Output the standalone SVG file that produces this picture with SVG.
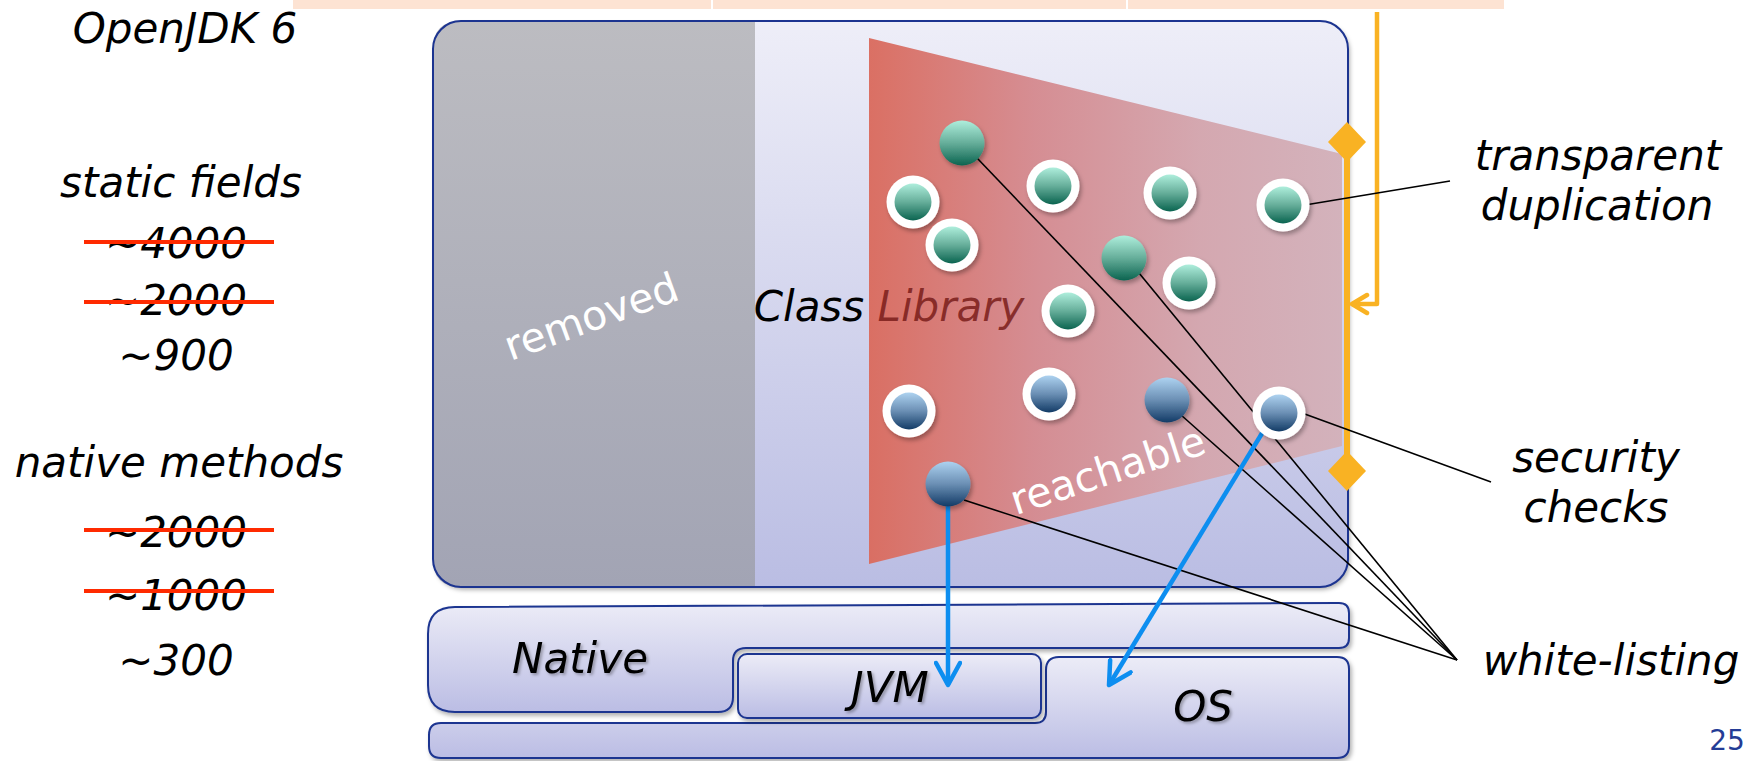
<svg xmlns="http://www.w3.org/2000/svg" width="1753" height="761" viewBox="0 0 1753 761">
  <style>
    .lbl { font-family: "DejaVu Sans", Verdana, sans-serif; font-style: italic; font-size: 42px; fill: #000; text-anchor: middle; }
    .up { font-family: "DejaVu Sans", Verdana, sans-serif; font-size: 41px; fill: #fff; text-anchor: middle; }
    .layer { stroke: #1c3490; stroke-width: 2; fill: url(#layerFill); }
    .strike { stroke: #ff2a00; stroke-width: 4; }
    .lead { stroke: #000; stroke-width: 1.6; fill: none; }
    .call { stroke: #0d8ef0; stroke-width: 4.5; fill: none; }
    .ring { fill: #fff; }
  </style>
  <defs>
    <linearGradient id="boxFill" x1="0" y1="0" x2="0" y2="1">
      <stop offset="0" stop-color="#eeeef8"/>
      <stop offset="1" stop-color="#babde3"/>
    </linearGradient>
    <linearGradient id="grayFill" x1="0" y1="0" x2="0" y2="1">
      <stop offset="0" stop-color="#bcbcc1"/>
      <stop offset="1" stop-color="#a2a4b4"/>
    </linearGradient>
    <linearGradient id="layerFill" x1="0" y1="0" x2="0" y2="1">
      <stop offset="0" stop-color="#ececf7"/>
      <stop offset="1" stop-color="#bbbde4"/>
    </linearGradient>
    <linearGradient id="redFill" x1="0" y1="0" x2="1" y2="0">
      <stop offset="0" stop-color="#da6c5f"/>
      <stop offset="0.35" stop-color="#d58b90"/>
      <stop offset="0.7" stop-color="#d4a6ae"/>
      <stop offset="1" stop-color="#d3b1ba"/>
    </linearGradient>
    <linearGradient id="green" x1="0" y1="0" x2="0" y2="1">
      <stop offset="0" stop-color="#aeeedc"/>
      <stop offset="0.5" stop-color="#66ae9a"/>
      <stop offset="1" stop-color="#0b6450"/>
    </linearGradient>
    <linearGradient id="blue" x1="0" y1="0" x2="0" y2="1">
      <stop offset="0" stop-color="#add2f0"/>
      <stop offset="0.5" stop-color="#6b8fb4"/>
      <stop offset="1" stop-color="#123b66"/>
    </linearGradient>
    <filter id="shadow" x="-30%" y="-30%" width="160%" height="160%">
      <feDropShadow dx="2" dy="3" stdDeviation="2" flood-color="#000" flood-opacity="0.3"/>
    </filter>
    <filter id="txtShadow" x="-10%" y="-20%" width="120%" height="140%">
      <feDropShadow dx="2" dy="2" stdDeviation="1.5" flood-color="#000" flood-opacity="0.3"/>
    </filter>
    <marker id="blueHead" viewBox="-26 -14 30 28" refX="0" refY="0" markerWidth="30" markerHeight="28" markerUnits="userSpaceOnUse" orient="auto">
      <path d="M-22,-12 L0,0 L-22,12" fill="none" stroke="#0d8ef0" stroke-width="4.5" stroke-linecap="round" stroke-linejoin="round"/>
    </marker>
    <marker id="orangeHead" viewBox="-20 -12 24 24" refX="0" refY="0" markerWidth="24" markerHeight="24" markerUnits="userSpaceOnUse" orient="auto">
      <path d="M-15,-9 L0,0 L-15,9" fill="none" stroke="#f9b223" stroke-width="4.5" stroke-linecap="round" stroke-linejoin="round"/>
    </marker>
  </defs>

  <rect width="1753" height="761" fill="#fff"/>

  <!-- header strip -->
  <g id="header">
    <rect x="293" y="0" width="1211" height="9" fill="#fde3d3"/>
    <rect x="711" y="0" width="2" height="9" fill="#fff"/>
    <rect x="1126" y="0" width="2" height="9" fill="#fff"/>
  </g>

  <!-- counters on the left -->
  <g id="counts">
    <text class="lbl" x="185" y="43">OpenJDK 6</text>
    <text class="lbl" x="181" y="197">static fields</text>
    <text class="lbl" x="176" y="258">~4000</text>
    <line class="strike" x1="84" y1="242" x2="274" y2="242"/>
    <text class="lbl" x="176" y="315">~2000</text>
    <line class="strike" x1="84" y1="302" x2="274" y2="302"/>
    <text class="lbl" x="176" y="370">~900</text>
    <text class="lbl" x="179" y="477">native methods</text>
    <text class="lbl" x="176" y="547">~2000</text>
    <line class="strike" x1="84" y1="530" x2="274" y2="530"/>
    <text class="lbl" x="176" y="610">~1000</text>
    <line class="strike" x1="84" y1="591" x2="274" y2="591"/>
    <text class="lbl" x="176" y="675">~300</text>
  </g>

  <!-- class library box -->
  <g id="classLibrary">
    <rect x="433" y="21" width="915" height="566" rx="28" fill="url(#boxFill)" filter="url(#shadow)"/>
    <path d="M755,21 L461,21 Q433,21 433,49 L433,559 Q433,587 461,587 L755,587 Z" fill="url(#grayFill)"/>
    <rect x="433" y="21" width="915" height="566" rx="28" fill="none" stroke="#1c3490" stroke-width="2"/>
    <text class="up" transform="translate(596,330) rotate(-20)" x="0" y="0">removed</text>
  </g>

  <!-- reachable part -->
  <g id="reachable">
    <polygon points="869,38 1342,154 1342,446 869,564" fill="url(#redFill)" opacity="0.97"/>
    <text class="lbl" x="889" y="321"><tspan fill="#000">Class </tspan><tspan fill="#7a1d1a" fill-opacity="0.85">Library</tspan></text>
    <text class="up" transform="translate(1112,484) rotate(-18)" x="0" y="0">reachable</text>
  </g>

  <!-- native layers -->
  <g id="native">
    <path class="layer" filter="url(#shadow)" d="M428,634 Q428,607 455,607 L1339,603 Q1349,603 1349,613 L1349,638 Q1349,648 1339,648 L746,648 Q733,648 733,661 L733,697 Q733,712 718,712 L455,712 Q428,712 428,685 Z"/>
    <text class="lbl" x="580" y="673" filter="url(#txtShadow)">Native</text>
  </g>
  <g id="os">
    <path class="layer" filter="url(#shadow)" d="M1046,670 Q1046,657 1059,657 L1337,657 Q1349,657 1349,669 L1349,746 Q1349,758 1337,758 L441,758 Q429,758 429,746 L429,735 Q429,723 441,723 L1035,723 Q1046,723 1046,712 Z"/>
    <text class="lbl" x="1203" y="721" filter="url(#txtShadow)">OS</text>
  </g>
  <g id="jvm">
    <rect class="layer" filter="url(#shadow)" x="738" y="654" width="303" height="64" rx="9"/>
    <text class="lbl" x="890" y="702" filter="url(#txtShadow)">JVM</text>
  </g>

  <!-- duplication bracket -->
  <g id="bracket">
    <line x1="1347" y1="142" x2="1347" y2="471" stroke="#f9b223" stroke-width="6"/>
    <polygon points="1347,122 1366,142 1347,162 1328,142" fill="#f9b223"/>
    <polygon points="1347,451 1366,471 1347,491 1328,471" fill="#f9b223"/>
    <path d="M1377,12 L1377,304 L1352,304" fill="none" stroke="#f9b223" stroke-width="4.5" stroke-linejoin="round" marker-end="url(#orangeHead)"/>
  </g>

  <!-- connectors -->
  <g id="connectors">
    <line class="lead" x1="1305" y1="205" x2="1450" y2="181"/>
    <line class="lead" x1="1302" y1="413" x2="1491" y2="482"/>
    <line class="lead" x1="977" y1="158" x2="1457" y2="660"/>
    <line class="lead" x1="1139" y1="273" x2="1457" y2="660"/>
    <line class="lead" x1="1181" y1="415" x2="1457" y2="660"/>
    <line class="lead" x1="964" y1="500" x2="1457" y2="660"/>
    <line class="call" x1="948" y1="506" x2="948" y2="685" marker-end="url(#blueHead)"/>
    <line class="call" x1="1264" y1="430" x2="1109" y2="685" marker-end="url(#blueHead)"/>
  </g>

  <!-- fields and methods -->
  <g id="fields">
    <g filter="url(#shadow)">
      <circle cx="962" cy="143" r="22.5" fill="url(#green)"/>
      <circle class="ring" cx="913" cy="202" r="26.5"/><circle cx="913" cy="202" r="18.5" fill="url(#green)"/>
      <circle class="ring" cx="952" cy="245" r="26.5"/><circle cx="952" cy="245" r="18.5" fill="url(#green)"/>
      <circle class="ring" cx="1053" cy="186" r="26.5"/><circle cx="1053" cy="186" r="18.5" fill="url(#green)"/>
      <circle class="ring" cx="1170" cy="193" r="26.5"/><circle cx="1170" cy="193" r="18.5" fill="url(#green)"/>
      <circle class="ring" cx="1283" cy="205" r="26.5"/><circle cx="1283" cy="205" r="18.5" fill="url(#green)"/>
      <circle cx="1124" cy="258" r="22.5" fill="url(#green)"/>
      <circle class="ring" cx="1189" cy="283" r="26.5"/><circle cx="1189" cy="283" r="18.5" fill="url(#green)"/>
      <circle class="ring" cx="1068" cy="311" r="26.5"/><circle cx="1068" cy="311" r="18.5" fill="url(#green)"/>
    </g>
  </g>
  <g id="methods">
    <g filter="url(#shadow)">
      <circle class="ring" cx="909" cy="411" r="26.5"/><circle cx="909" cy="411" r="18.5" fill="url(#blue)"/>
      <circle class="ring" cx="1049" cy="394" r="26.5"/><circle cx="1049" cy="394" r="18.5" fill="url(#blue)"/>
      <circle cx="1167" cy="400" r="22.5" fill="url(#blue)"/>
      <circle class="ring" cx="1279" cy="413" r="26.5"/><circle cx="1279" cy="413" r="18.5" fill="url(#blue)"/>
      <circle cx="948" cy="484" r="22.5" fill="url(#blue)"/>
    </g>
  </g>

  <!-- labels on the right -->
  <g id="notes">
    <text class="lbl" x="1598" y="170">transparent</text>
    <text class="lbl" x="1597" y="220">duplication</text>
    <text class="lbl" x="1596" y="472">security</text>
    <text class="lbl" x="1596" y="522">checks</text>
    <text class="lbl" x="1611" y="675">white-listing</text>
  </g>

  <text x="1727" y="750" font-family="DejaVu Sans, Verdana, sans-serif" font-size="28" fill="#243c96" text-anchor="middle">25</text>
</svg>
